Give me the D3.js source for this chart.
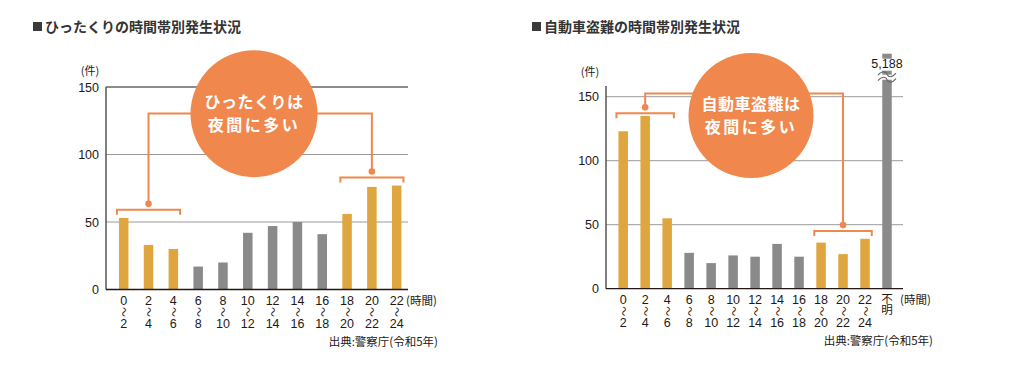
<!DOCTYPE html>
<html>
<head>
<meta charset="utf-8">
<script src="https://cdn.jsdelivr.net/npm/d3@7"></script>
<style>
  body { margin: 0; background: #fff; }
  svg { display: block; font-family: "Noto Sans CJK JP", "Noto Sans", sans-serif; }
  .num { font-family: "Liberation Sans", "Noto Sans CJK JP", sans-serif; }
</style>
</head>
<body>
<svg id="chart" width="1017" height="370"></svg>
<script>
// データ
const hourStarts = ['0', '2', '4', '6', '8', '10', '12', '14', '16', '18', '20', '22']
const hourEnds = ['2', '4', '6', '8', '10', '12', '14', '16', '18', '20', '22', '24']
const nightHours = ['0', '2', '4', '18', '20', '22']
const hittakuriCounts = [53, 33, 30, 17, 20, 42, 47, 50, 41, 56, 76, 77]
const carTheftCounts = [123, 135, 55, 28, 20, 26, 25, 35, 25, 36, 27, 39]
const unknownLabel = '不明'
const carTheftUnknown = 5188
const yTicks = [0, 50, 100, 150]
const titles = ['ひったくりの時間帯別発生状況', '自動車盗難の時間帯別発生状況']
const bubbleTexts = [['ひったくりは', '夜間に多い'], ['自動車盗難は', '夜間に多い']]
const sourceText = '出典:警察庁(令和5年)'

const GOLD = '#dfa63f', GRAY = '#8a8a8a', ORANGE = '#f0874d', INK = '#231815'

let svg = d3.select('#chart')

function drawChart (opt) {
  let g = svg.append('g')
  let cats = opt.cats
  let x = d3.scalePoint().domain(cats).range(opt.xRange)
  let y = d3.scaleLinear().domain([0, 150]).range(opt.yRange)
  let barW = 9.5
  let left = opt.axisX, right = opt.gridRight

  // タイトル
  g.append('rect')
    .attr('x', opt.titleX).attr('y', 22).attr('width', 9).attr('height', 9)
    .style('fill', '#3a3a3a')
  g.append('text')
    .attr('x', opt.titleX + 12).attr('y', 32)
    .style('font-size', '14px').style('font-weight', 'bold').style('fill', '#333')
    .text(titles[opt.idx])

  // グリッド
  g.selectAll('.grid').data(yTicks.filter(d => d > 0)).enter()
    .append('line')
    .attr('x1', left).attr('x2', right)
    .attr('y1', d => y(d)).attr('y2', d => y(d))
    .style('stroke', d => (d === 150 && opt.topBlack) ? INK : '#9a9a9a')
    .style('stroke-width', d => (d === 150 && opt.topBlack) ? 1.2 : 1)

  // 棒
  g.selectAll('.bar').data(opt.values).enter()
    .append('rect')
    .attr('x', (d, i) => x(cats[i]) - barW / 2)
    .attr('y', d => y(d))
    .attr('width', barW)
    .attr('height', d => y(0) - y(d))
    .style('fill', (d, i) => nightHours.includes(cats[i]) ? GOLD : GRAY)

  // 不明（軸外）
  if (opt.unknown) {
    let ux = x(unknownLabel)
    let top = y(150) - 43
    g.append('rect')
      .attr('x', ux - barW / 2).attr('y', top)
      .attr('width', barW).attr('height', y(0) - top)
      .style('fill', GRAY)
    g.append('rect')
      .attr('x', ux - 17).attr('y', top + 5)
      .attr('width', 34).attr('height', 12)
      .style('fill', '#fff')
    g.append('text')
      .attr('class', 'num')
      .attr('x', ux).attr('y', top + 14.5)
      .attr('text-anchor', 'middle')
      .style('font-size', '12.5px').style('fill', INK)
      .text(d3.format(',')(opt.unknown))
    // 省略の波線
    let wave = (y0) => {
      let p = d3.path()
      p.moveTo(ux - 9, y0 + 1)
      p.bezierCurveTo(ux - 5, y0 - 4, ux - 1, y0 - 3, ux, y0)
      p.bezierCurveTo(ux + 1, y0 + 3, ux + 5, y0 + 4, ux + 9, y0 - 1)
      return p.toString()
    }
    let yb = top + 22
    g.append('rect')
      .attr('x', ux - barW / 2 - 1).attr('y', yb - 1)
      .attr('width', barW + 2).attr('height', 5)
      .style('fill', '#fff')
    g.selectAll('.wave').data([yb - 1.5, yb + 4]).enter()
      .append('path')
      .attr('d', d => wave(d))
      .style('fill', 'none').style('stroke', '#666').style('stroke-width', 1.1)
  }

  // 軸
  g.append('line')
    .attr('x1', left).attr('x2', left)
    .attr('y1', y(0)).attr('y2', opt.axisTop)
    .style('stroke', '#555').style('stroke-width', 1.5)
  g.append('line')
    .attr('x1', left).attr('x2', right)
    .attr('y1', y(0)).attr('y2', y(0))
    .style('stroke', INK).style('stroke-width', 1.3)

  // 目盛り
  g.selectAll('.ytick').data(yTicks).enter()
    .append('text')
    .attr('class', 'num')
    .attr('x', left - 7).attr('y', d => y(d) + 4.5)
    .attr('text-anchor', 'end')
    .style('font-size', '12.5px').style('fill', INK)
    .text(d => d)
  g.append('text')
    .attr('x', left - 16).attr('y', opt.unitY)
    .attr('text-anchor', 'middle')
    .style('font-size', '11px').style('fill', INK)
    .text('(件)')

  let xl = g.selectAll('.xtick').data(hourStarts).enter()
    .append('g')
    .attr('transform', d => `translate(${x(d)},${y(0)})`)
  xl.append('text').attr('class', 'num').attr('y', 15).attr('text-anchor', 'middle')
    .style('font-size', '12.5px').style('fill', INK).text(d => d)
  xl.append('text').attr('transform', 'translate(0,22.5) rotate(90)')
    .attr('text-anchor', 'middle').attr('dy', '0.35em')
    .style('font-size', '10px').style('fill', INK).text('〜')
  xl.append('text').attr('class', 'num').attr('y', 38).attr('text-anchor', 'middle')
    .style('font-size', '12.5px').style('fill', INK).text((d, i) => hourEnds[i])

  if (opt.unknown) {
    // 縦書きの「不明」
    g.append('text')
      .attr('x', x(unknownLabel)).attr('y', y(0) + 4)
      .style('writing-mode', 'vertical-rl')
      .style('letter-spacing', '-0.5px')
      .style('font-size', '11.5px').style('fill', INK)
      .text(unknownLabel)
  }
  g.append('text')
    .attr('x', opt.hourLabelX).attr('y', y(0) + 15)
    .style('font-size', '11.5px').style('fill', INK)
    .text('(時間)')
  g.append('text')
    .attr('x', opt.sourceRight).attr('y', y(0) + 56)
    .attr('text-anchor', 'end')
    .style('font-size', '11.5px').style('fill', INK)
    .text(sourceText)

  // 括弧と吹き出し
  let br = opt.brackets
  let lines = g.append('g')
    .style('fill', 'none').style('stroke', ORANGE).style('stroke-width', 2)
  br.forEach(b => {
    let x0 = x(b.from) - barW / 2 - 2, x1 = x(b.to) + barW / 2 + 2
    let mid = (x0 + x1) / 2
    let by = y(b.at)
    lines.append('path')
      .attr('d', `M${x0},${by + 5}V${by}H${x1}V${by + 5}`)
    let lx = b.lineX === 'mid' ? mid : x(b.lineX)
    lines.append('path')
      .attr('d', `M${lx},${by - 6}V${opt.linkY}H${opt.bubble.cx}`)
    g.append('circle')
      .attr('cx', lx).attr('cy', by - 6).attr('r', 3.3)
      .style('fill', ORANGE)
  })
  g.append('circle')
    .attr('cx', opt.bubble.cx).attr('cy', opt.bubble.cy).attr('r', opt.bubble.r)
    .style('fill', ORANGE)
  let bt = g.append('text')
    .attr('text-anchor', 'middle')
    .style('font-size', '16px').style('font-weight', 'bold').style('fill', '#fff')
  bt.selectAll('tspan').data(bubbleTexts[opt.idx]).enter()
    .append('tspan')
    .attr('x', opt.bubble.cx)
    .attr('y', (d, i) => opt.bubble.cy - 6 + i * 23.5)
    .style('letter-spacing', (d, i) => i === 1 ? '2.5px' : '0.5px')
    .text(d => d)
}

drawChart({
  idx: 0,
  cats: hourStarts,
  values: hittakuriCounts,
  xRange: [123.7, 396.7],
  yRange: [289.5, 87],
  axisX: 106,
  axisTop: 87,
  gridRight: 408,
  topBlack: true,
  titleX: 33,
  unitY: 75,
  hourLabelX: 406,
  sourceRight: 438,
  linkY: 113.5,
  bubble: { cx: 254, cy: 113.7, r: 63.5 },
  brackets: [
    { from: '0', to: '4', at: 59, lineX: 'mid' },
    { from: '18', to: '22', at: 83, lineX: 'mid' }
  ]
})

drawChart({
  idx: 1,
  cats: hourStarts.concat([unknownLabel]),
  values: carTheftCounts,
  unknown: carTheftUnknown,
  xRange: [623.2, 887],
  yRange: [288.7, 96.7],
  axisX: 606,
  axisTop: 86,
  gridRight: 903,
  topBlack: false,
  titleX: 532,
  unitY: 76,
  hourLabelX: 900,
  sourceRight: 933,
  linkY: 93.5,
  bubble: { cx: 751, cy: 115.5, r: 62.5 },
  brackets: [
    { from: '0', to: '4', at: 137, lineX: 'mid' },
    { from: '18', to: '22', at: 45, lineX: '20' }
  ]
})
</script>
</body>
</html>
